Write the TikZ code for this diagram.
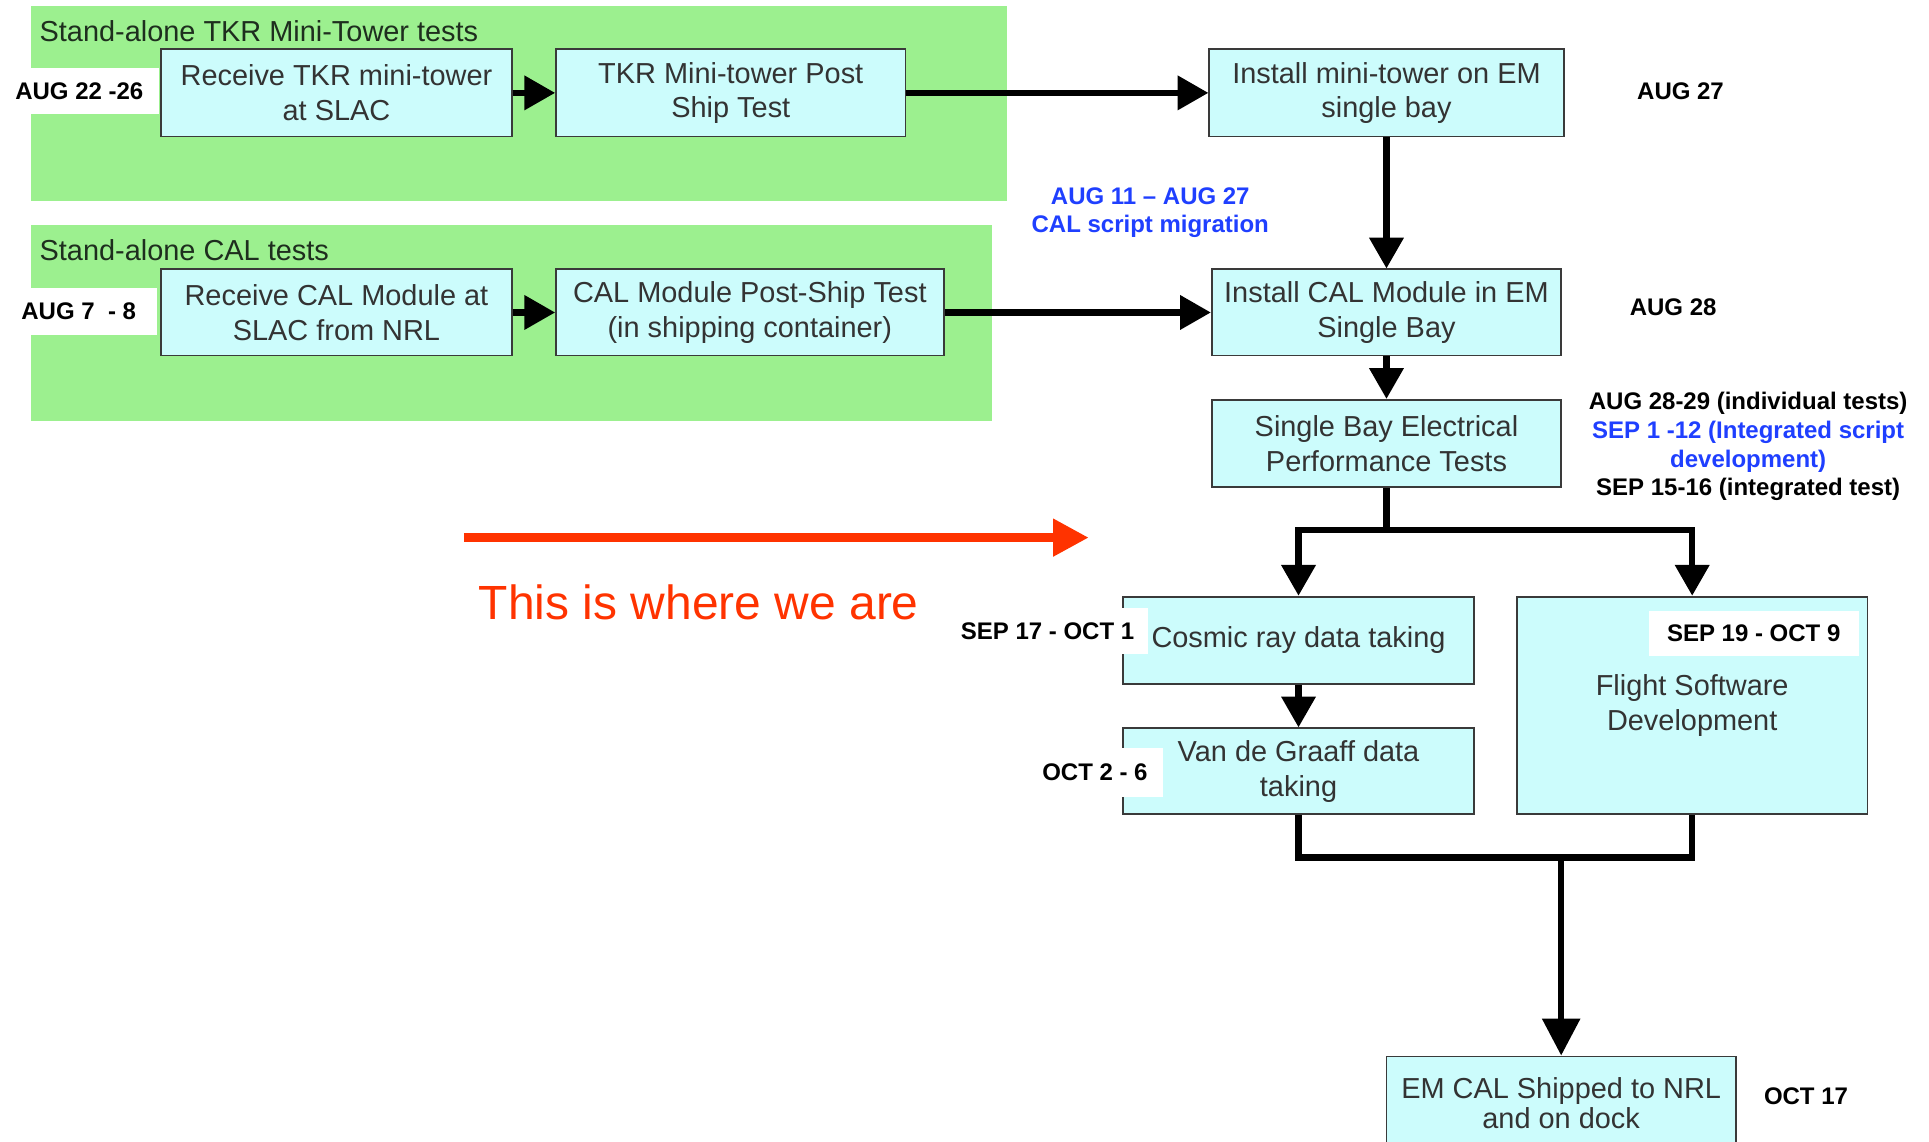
\documentclass[tikz,border=0pt]{standalone}
\usepackage{fontspec}
\setmainfont{Liberation Sans}
\usepackage{xcolor}
\definecolor{cPanel}{HTML}{9CF08F}
\definecolor{cBox}{HTML}{CCFCFC}
\definecolor{cEdge}{HTML}{3A3A3A}
\definecolor{cText}{HTML}{333333}
\definecolor{cTitle}{HTML}{1E2E1E}
\definecolor{cBlue}{HTML}{1F3FFF}
\definecolor{cHere}{HTML}{FF3300}
\usepackage{tikz}
\usetikzlibrary{positioning,arrows.meta}
\newcommand{\boxfont}{\fontsize{23.5}{28}\selectfont}
\newcommand{\datefont}{\fontsize{19.5}{23.3}\selectfont\bfseries}
\newcommand{\herefont}{\fontsize{39}{47}\selectfont}
\tikzset{
  node-box/.style={draw=cEdge,line width=1.5pt,fill=cBox,text=cText,
    align=center,font=\boxfont,inner sep=0pt},
  node-panel/.style={fill=cPanel,inner sep=0pt,anchor=north west},
  panel-title/.style={font=\boxfont,text=cTitle,anchor=west,inner sep=0pt},
  node-date/.style={fill=white,font=\datefont,inner sep=0pt,align=center},
  arrow/.style={-{Triangle[length=25pt,width=27pt]},line width=5pt,draw=black},
  arrow-big/.style={-{Triangle[length=30pt,width=30pt]},line width=5pt,draw=black},
  link/.style={line width=5pt,draw=black},
  arrow-here/.style={-{Triangle[length=29pt,width=29pt]},line width=7pt,draw=cHere},
}

\begin{document}
\begin{tikzpicture}[x=1pt,y=-1pt]
  \useasboundingbox (0,0) rectangle (1568,928);
  \clip (0,0) rectangle (1568,928);

  % stand-alone groups
  \node[node-panel,minimum width=793pt,minimum height=158pt] (tkrPanel) at (25,5) {};
  \node[panel-title] (tkrTitle) at (32,25) {Stand-alone TKR Mini-Tower tests};
  \node[node-panel,minimum width=781pt,minimum height=159pt] (calPanel) at (25,183) {};
  \node[panel-title] (calTitle) at (32,203) {Stand-alone CAL tests};

  \node[node-box,minimum width=285pt,minimum height=71pt] (recvTkr) at (273.5,75.5) {Receive TKR mini-tower\\at SLAC};
  \node[node-box,minimum width=284pt,minimum height=71pt,right=34.5pt of recvTkr] (postTkr) {TKR Mini-tower Post\\Ship Test};
  \node[node-box,minimum width=288pt,minimum height=71pt] (mountTkr) at (1127,75.5) {Install mini-tower on EM\\single bay};

  \node[node-box,minimum width=285pt,minimum height=70pt] (recvCal) at (273.5,254) {Receive CAL Module at\\SLAC from NRL};
  \node[node-box,minimum width=315pt,minimum height=70pt,right=34.5pt of recvCal] (postCal) {CAL Module Post-Ship Test\\(in shipping container)};
  \node[node-box,minimum width=284pt,minimum height=70pt,below=106.5pt of mountTkr] (mountCal) {Install CAL Module in EM\\Single Bay};
  \node[node-box,minimum width=284pt,minimum height=71pt,below=34.5pt of mountCal] (sbTest) {Single Bay Electrical\\Performance Tests};

  \node[node-box,minimum width=285pt,minimum height=71pt] (cosmic) at (1055.5,520.5) {Cosmic ray data taking};
  \node[node-box,minimum width=285pt,minimum height=70pt,below=34.5pt of cosmic] (vdg) {Van de Graaff data\\taking};
  \node[node-box,minimum width=285pt,minimum height=177pt] (fsw) at (1375.5,573.5) {Flight Software\\Development};
  \node[node-box,minimum width=284pt,minimum height=76pt,anchor=north,
    font=\fontsize{23.5}{24}\selectfont] (ship) at (1269,858) {EM CAL Shipped to NRL\\and on dock};

  \draw[arrow] (recvTkr) -- (postTkr);
  \draw[arrow] (postTkr) -- (mountTkr);
  \draw[arrow] (recvCal) -- (postCal);
  \draw[arrow] (postCal) -- (mountCal);
  \draw[arrow] (mountTkr) -- (mountCal);
  \draw[arrow] (mountCal) -- (sbTest);

  \coordinate (split) at (1127,431);
  \draw[link] (sbTest) -- (split);
  \draw[arrow] (split) -| (cosmic);
  \draw[arrow] (split) -| (fsw);
  \draw[arrow] (cosmic) -- (vdg);

  \coordinate (merge) at (1269,697);
  \draw[link] (vdg) |- (merge);
  \draw[link] (fsw) |- (merge);
  \draw[arrow-big] (merge) -- (ship);

  % dates
  \node[node-date,minimum width=129pt,minimum height=38pt] (dRecvTkr) at (64.5,74) {AUG 22 -26};
  \node[node-date,minimum width=128pt,minimum height=38pt] (dRecvCal) at (64,253) {AUG 7\ \ - 8};
  \node[node-date] (dMountTkr) at (1366,74) {AUG 27};
  \node[node-date] (dMountCal) at (1360,250) {AUG 28};
  \node[node-date,text=cBlue] (dScript) at (935,173) {AUG 11 -- AUG 27\\CAL script migration};
  \node[node-date] (dSbTest) at (1421,363) {AUG 28-29 (individual tests)\\
    \textcolor{cBlue}{SEP 1 -12 (Integrated script}\\\textcolor{cBlue}{development)}\\
    SEP 15-16 (integrated test)};
  \node[node-date,minimum width=163pt,minimum height=38pt] (dCosmic) at (851.5,513) {SEP 17 - OCT 1};
  \node[node-date,minimum width=110pt,minimum height=40pt] (dVdg) at (890,628) {OCT 2 - 6};
  \node[node-date,minimum width=171pt,minimum height=36pt] (dFsw) at (1425.5,515) {SEP 19 - OCT 9};
  \node[node-date] (dShip) at (1468,891) {OCT 17};

  \coordinate (hereTail) at (377,437);
  \coordinate (hereTip) at (885,437);
  \draw[arrow-here] (hereTail) -- (hereTip);
  \node[font=\herefont,text=cHere,inner sep=0pt] (hereText) at (568,490) {This is where we are};
\end{tikzpicture}
\end{document}
